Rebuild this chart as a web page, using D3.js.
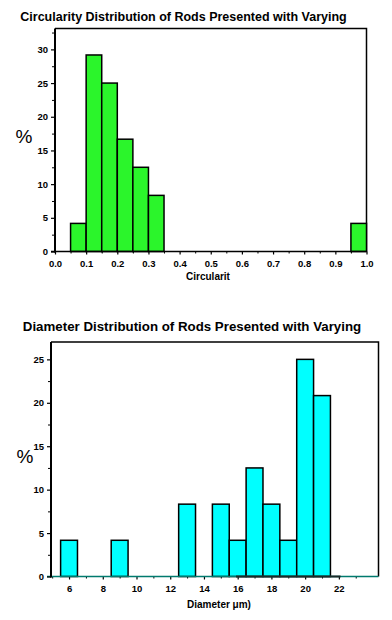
<!DOCTYPE html>
<html><head><meta charset="utf-8">
<script src="https://cdn.jsdelivr.net/npm/d3@7"></script>
<style>
body{margin:0;background:#fff;}
svg{display:block;font-family:Arial,"Liberation Sans",sans-serif;}
</style></head>
<body><svg id="c" width="392" height="620"></svg>
<script>
// ---- Data: circularity histogram ----
const circTitle = "Circularity Distribution of Rods Presented with Varying";
const circBinStart = [0.05, 0.10, 0.15, 0.20, 0.25, 0.30, 0.95];
const circBinEnd   = [0.10, 0.15, 0.20, 0.25, 0.30, 0.35, 1.00];
const circPct      = [4.17, 29.17, 25.0, 16.67, 12.5, 8.33, 4.17];
const circXTicks   = [0.0,0.1,0.2,0.3,0.4,0.5,0.6,0.7,0.8,0.9,1.0];
const circYTicks   = [0,5,10,15,20,25,30];
const circXLabel   = "Circularit";

// ---- Data: diameter histogram ----
const diamTitle = "Diameter Distribution of Rods Presented with Varying";
const diamBinStart = [5.5, 8.5, 12.5, 14.5, 15.5, 16.5, 17.5, 18.5, 19.5, 20.5];
const diamBinEnd   = [6.5, 9.5, 13.5, 15.5, 16.5, 17.5, 18.5, 19.5, 20.5, 21.5];
const diamPct      = [4.17, 4.17, 8.33, 8.33, 4.17, 12.5, 8.33, 4.17, 25.0, 20.83];
const diamXTicks   = [6,8,10,12,14,16,18,20,22];
const diamYTicks   = [0,5,10,15,20,25];
const diamXLabel   = "Diameter\u00a0\u03bcm)";

const svg = d3.select("#c");

function chart(cfg){
  const g = svg.append("g");
  const x = d3.scaleLinear().domain(cfg.xDomain).range([cfg.left, cfg.right]);
  const y = d3.scaleLinear().domain(cfg.yDomain).range([cfg.bottom, cfg.top]);

  g.append("text").attr("x", cfg.titleX).attr("y", cfg.titleY)
    .attr("text-anchor","middle").attr("font-size",cfg.titleSize).attr("font-weight","bold")
    .attr("fill","#000").text(cfg.title);

  // frame top + right
  g.append("path").attr("d", `M${cfg.left},${cfg.top}H${cfg.right}V${cfg.bottom}`)
    .attr("fill","none").attr("stroke","#000").attr("stroke-width",1.5);

  // bars
  g.selectAll("rect.bar").data(cfg.pct).join("rect")
    .attr("x",(d,i)=>x(cfg.start[i])).attr("width",(d,i)=>x(cfg.end[i])-x(cfg.start[i]))
    .attr("y",d=>y(d)).attr("height",d=>y(0)-y(d))
    .attr("fill",cfg.color).attr("stroke","#000").attr("stroke-width",1.5);

  // x axis
  const xa = g.append("g").attr("transform",`translate(0,${cfg.bottom})`)
    .call(d3.axisBottom(x).tickValues(cfg.xTicks).tickSize(3).tickPadding(cfg.xPad)
      .tickFormat(cfg.xFmt));
  xa.select(".domain").remove();
  xa.selectAll("line").attr("stroke","#000").attr("stroke-width",1.2);
  xa.selectAll("text").attr("font-size",9.5).attr("font-weight","bold").attr("fill","#000")
    .attr("font-family","Arial, 'Liberation Sans', sans-serif");
  const xm = g.append("g").attr("transform",`translate(0,${cfg.bottom})`)
    .call(d3.axisBottom(x).tickValues(cfg.xMinor).tickSize(2).tickFormat(""));
  xm.select(".domain").remove();
  xm.selectAll("line").attr("stroke","#000");
  g.append("line").attr("x1",cfg.left-4).attr("x2",cfg.right)
    .attr("y1",cfg.bottom).attr("y2",cfg.bottom)
    .attr("stroke",cfg.xAxisColor).attr("stroke-width",1.5);

  // y axis
  const ya = g.append("g").attr("transform",`translate(${cfg.left},0)`)
    .call(d3.axisLeft(y).tickValues(cfg.yTicks).tickSize(4).tickPadding(3));
  ya.select(".domain").remove();
  ya.selectAll("line").attr("stroke","#000").attr("stroke-width",1.2);
  ya.selectAll("text").attr("font-size",9.5).attr("font-weight","bold").attr("fill","#000")
    .attr("font-family","Arial, 'Liberation Sans', sans-serif");
  const ym = g.append("g").attr("transform",`translate(${cfg.left},0)`)
    .call(d3.axisLeft(y).tickValues(cfg.yTicks.map(v=>v+2.5).filter(v=>v<cfg.yDomain[1])).tickSize(3).tickFormat(""));
  ym.select(".domain").remove();
  ym.selectAll("line").attr("stroke","#000");
  g.append("line").attr("x1",cfg.left).attr("x2",cfg.left)
    .attr("y1",cfg.top).attr("y2",cfg.bottom+1).attr("stroke","#000").attr("stroke-width",2);

  g.append("text").attr("x",cfg.xLabelX).attr("y",cfg.xLabelY).attr("text-anchor","middle")
    .attr("font-size",10).attr("font-weight","bold").attr("fill","#000").text(cfg.xLabel);
  g.append("text").attr("x",cfg.pctX).attr("y",cfg.pctY).attr("text-anchor","middle")
    .attr("font-size",19).attr("fill","#000").text("%");
  return {g,x,y};
}

chart({
  title: circTitle, titleX: 183.5, titleY: 21, titleSize: 12.5,
  left: 55, right: 366.5, top: 28.5, bottom: 251.5,
  xDomain: [0,1], yDomain: [0,33.1],
  start: circBinStart, end: circBinEnd, pct: circPct, color: "#2bf52b",
  xTicks: circXTicks, xFmt: d3.format(".1f"), xPad: 6,
  xMinor: d3.range(0.05,1,0.1),
  yTicks: circYTicks, xAxisColor: "#000",
  xLabel: circXLabel, xLabelX: 208, xLabelY: 280,
  pctX: 24, pctY: 143
});

const d = chart({
  title: diamTitle, titleX: 192, titleY: 331, titleSize: 13.3,
  left: 51, right: 378.5, top: 342, bottom: 576.5,
  xDomain: [4.93, 24.35], yDomain: [0,27],
  start: diamBinStart, end: diamBinEnd, pct: diamPct, color: "#00ffff",
  xTicks: diamXTicks, xFmt: d3.format("d"), xPad: 6,
  xMinor: [5,7,9,11,13,15,17,19,21,23],
  yTicks: diamYTicks, xAxisColor: "#007a6e",
  xLabel: diamXLabel, xLabelX: 219, xLabelY: 608,
  pctX: 25, pctY: 463
});
// darker baseline segment under the right cluster
d.g.append("line").attr("x1",d.x(15.9)).attr("x2",d.x(22.1))
  .attr("y1",576.5).attr("y2",576.5).attr("stroke","#1a2a28").attr("stroke-width",1.8);
</script></body></html>
